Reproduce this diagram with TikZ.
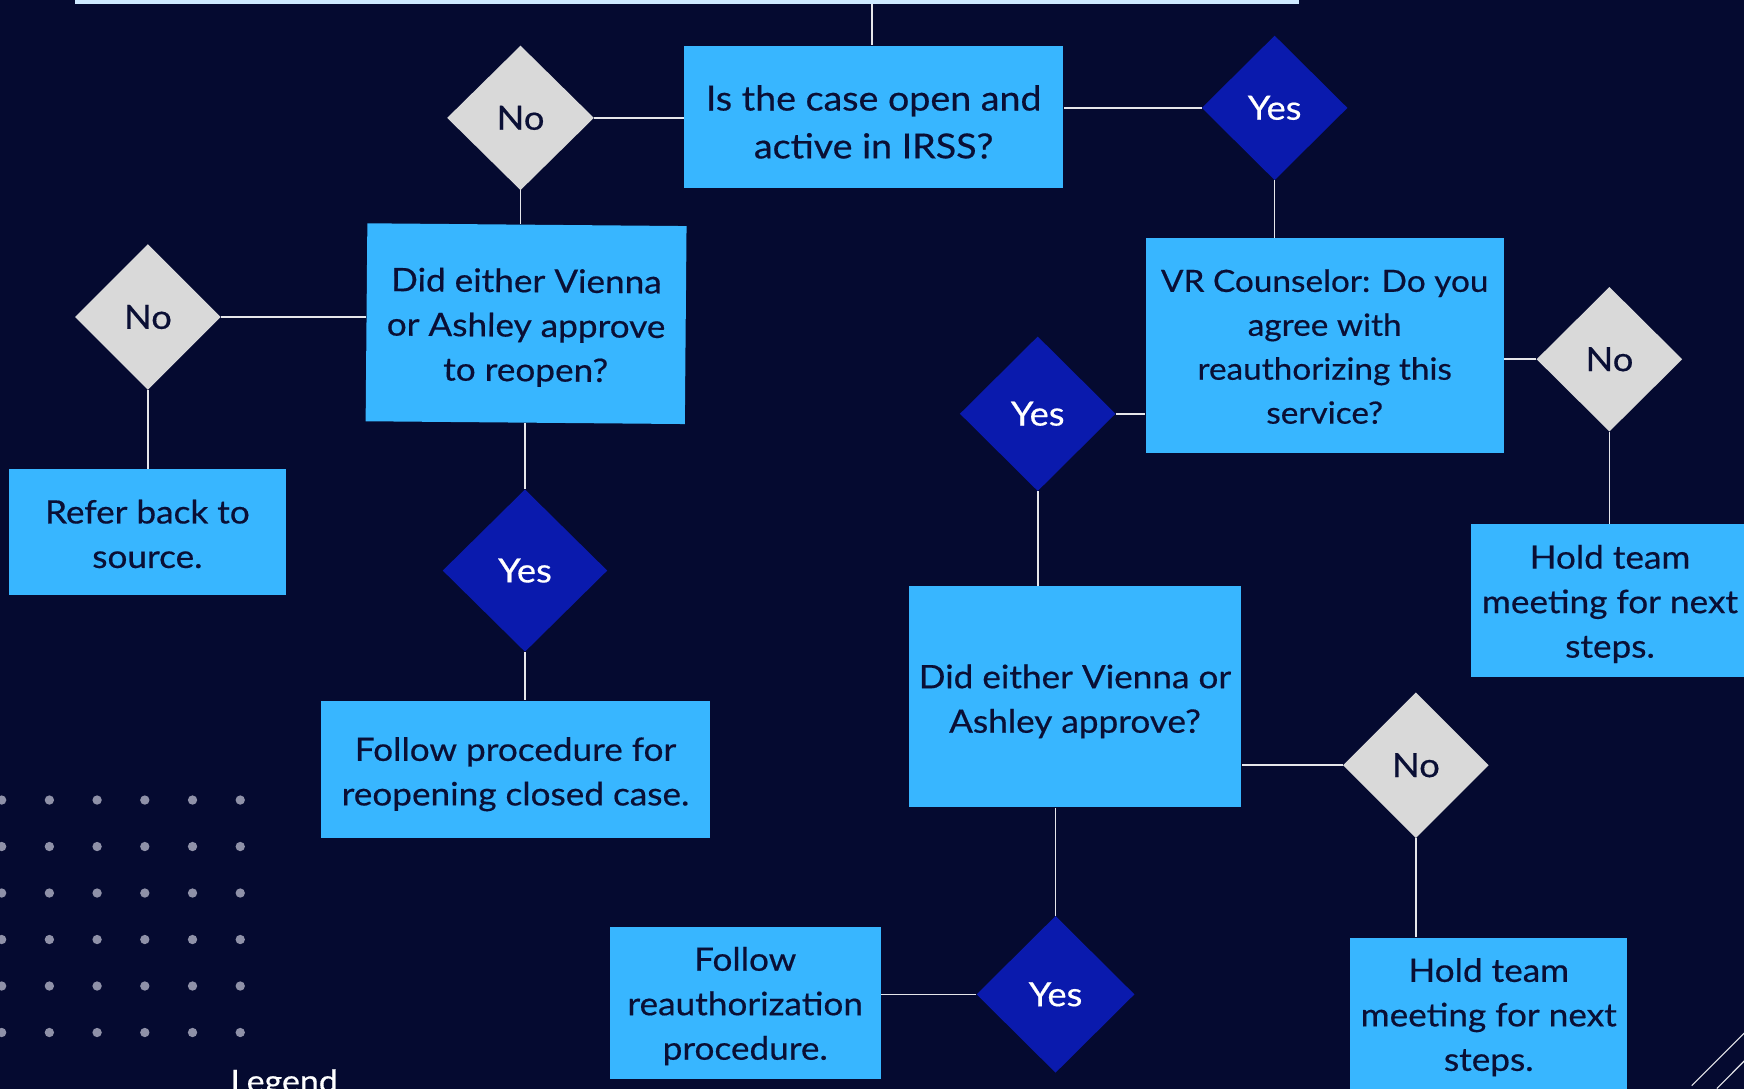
\documentclass[tikz,border=0pt]{standalone}
\usepackage{fontspec}
\setmainfont{Lato}[FakeStretch=1.09,FakeBold=0.5]
\usetikzlibrary{shapes.geometric}
\definecolor{bg}{HTML}{050A30}
\definecolor{boxblue}{HTML}{38B6FF}
\definecolor{diagray}{HTML}{D9D9D9}
\definecolor{diablue}{HTML}{0A1AAD}
\definecolor{navy}{HTML}{0A0F35}
\definecolor{linec}{HTML}{E6E6EA}
\definecolor{barc}{HTML}{CFEAFF}
\definecolor{dotc}{HTML}{8F91A8}
\newcommand\lift[1]{\rule{0pt}{#1pt}}
\begin{document}
\begin{tikzpicture}[x=1pt,y=-1pt,
  box/.style={rectangle, fill=boxblue, text=navy, align=center, inner sep=0pt,
    font=\fontsize{29}{40}\selectfont},
  nodia/.style={diamond, fill=diagray, text=navy, inner sep=0pt,
    font=\fontsize{30}{36}\selectfont},
  yesdia/.style={diamond, fill=diablue, text=white, inner sep=0pt,
    font=\fontsize{30}{36}\selectfont},
  conn/.style={draw=linec, line width=1.4pt},
  dotstyle/.style={fill=dotc}]
\clip (0,0) rectangle (1568,979);
\fill[bg] (0,0) rectangle (1568,979);
% top bar
\fill[barc] (67,0) rectangle (1168,3.6);
\coordinate (top) at (784,3.6);
% dots
\foreach \i in {0,...,5}{
  \foreach \j in {0,...,5}{
    \fill[dotstyle] (1.5+42.9*\i, 719.3+41.8*\j) circle (4.2);
  }
}
% corner lines
\draw[linec, line width=1pt] (1521,976) -- (1600,897);
\draw[linec, line width=1pt] (1543.6,978.6) -- (1600,922);
% nodes
\node[box, minimum width=341pt, minimum height=128pt, font=\fontsize{31}{43}\selectfont] (A) at (785.5,105) {\lift{32}Is the case open and\\active in IRSS?};
\node[nodia, minimum width=132pt, minimum height=130pt] (NoA) at (468,106) {No};
\node[yesdia, minimum width=131pt, minimum height=130pt] (YesA) at (1146,97) {Yes};
\node[box, minimum width=322pt, minimum height=193pt, font=\fontsize{27.5}{39.5}\selectfont] (B) at (1191,310.5) {\lift{22.5}VR Counselor: Do you\\agree with\\reauthorizing this\\service?};
\node[nodia, minimum width=131pt, minimum height=130pt] (NoB) at (1447,323) {No};
\node[box, minimum width=250pt, minimum height=138pt] (H1) at (1447.5,540) {\lift{27.5}Hold team\\meeting for next\\steps.};
\node[yesdia, minimum width=140pt, minimum height=139pt] (YesB) at (933,372) {Yes};
\node[box, minimum width=299pt, minimum height=199pt] (C) at (966.5,626.5) {\lift{29.5}Did either Vienna or\\Ashley approve?};
\node[nodia, minimum width=131pt, minimum height=131pt] (NoC) at (1273,688) {No};
\node[box, minimum width=249pt, minimum height=138pt] (H2) at (1338.5,912) {\lift{26.5}Hold team\\meeting for next\\steps.};
\node[yesdia, minimum width=142pt, minimum height=141pt] (YesC) at (949,894) {Yes};
\node[box, minimum width=244pt, minimum height=137pt] (FR) at (670,901.5) {\lift{27.5}Follow\\reauthorization\\procedure.};
\node[box, minimum width=287pt, minimum height=178pt, rotate=-0.5] (D) at (473,291) {\lift{28.5}Did either Vienna\\or Ashley approve\\to reopen?};
\node[nodia, minimum width=131pt, minimum height=131pt] (NoD) at (133,285) {No};
\node[box, minimum width=249pt, minimum height=113pt] (R) at (132.5,478.5) {\lift{24.5}Refer back to\\source.};
\node[yesdia, minimum width=148pt, minimum height=146pt] (YesD) at (472,513) {Yes};
\node[box, minimum width=349pt, minimum height=123pt] (FP) at (463.5,691.5) {\lift{30.5}Follow procedure for\\reopening closed case.};
\node[anchor=base west, text=white, inner sep=0pt, font=\fontsize{28}{30}\selectfont] (legend) at (207,982) {Legend};
% connectors
\draw[conn] (top) -- (top |- A.north);
\draw[conn] (NoA.east) -- (A.west |- NoA.east);
\draw[conn] (YesA.west) -- (YesA.west -| A.east);
\draw[conn] (YesA.south) -- (YesA.south |- B.north);
\draw[conn] (NoB.west) -- (NoB.west -| B.east);
\draw[conn] (NoB.south) -- (NoB.south |- H1.north);
\draw[conn] (YesB.east) -- (YesB.east -| B.west);
\draw[conn] (YesB.south) -- (YesB.south |- C.north);
\draw[conn] (NoC.west) -- (NoC.west -| C.east);
\draw[conn] (NoC.south) -- (NoC.south |- H2.north);
\draw[conn] (YesC.north) -- (YesC.north |- C.south);
\draw[conn] (YesC.west) -- (YesC.west -| FR.east);
\draw[conn] (NoA.south) -- (NoA.south |- D.north);
\draw[conn] (NoD.east) -- (NoD.east -| D.west);
\draw[conn] (NoD.south) -- (NoD.south |- R.north);
\draw[conn] (YesD.north) -- (YesD.north |- D.south);
\draw[conn] (YesD.south) -- (YesD.south |- FP.north);
\end{tikzpicture}
\end{document}
